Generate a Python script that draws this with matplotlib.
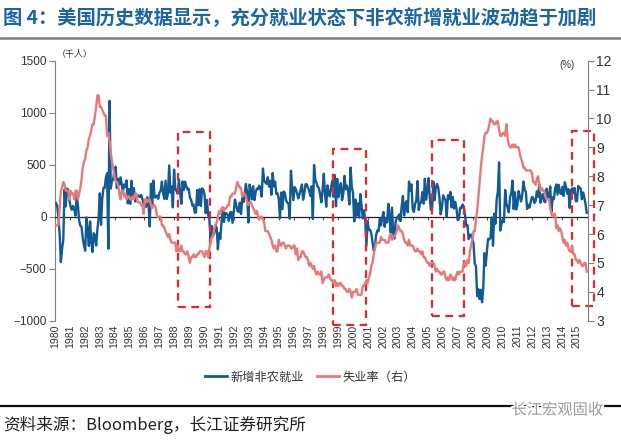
import matplotlib
matplotlib.use("Agg")
import matplotlib.pyplot as plt
import matplotlib.patheffects as pe
from matplotlib.patches import Rectangle
from matplotlib.lines import Line2D
import numpy as np

plt.rcParams['font.family'] = ['Noto Sans CJK SC', 'DejaVu Sans']

# ---------------- data (monthly, Jan 1980 - May 2016) ----------------
start_year = 1980
payroll_by_year = {
    1980: [131, 102, -11, -167, -436, -311, -222, 259, 99, 271, 259, 162],
    1981: [95, 67, 104, 74, 10, 196, 112, -36, -87, -100, -209, -278],
    1982: [-327, -6, -129, -281, -45, -243, -340, -158, -181, -277, -124, -14],
    1983: [225, -78, 173, 276, 277, 378, 418, -308, 1114, 271, 352, 356],
    1984: [446, 481, 275, 363, 308, 379, 313, 242, 310, 286, 349, 128],
    1985: [265, 124, 346, 196, 274, 146, 190, 193, 204, 188, 209, 167],
    1986: [125, 107, 94, 187, 127, -94, 318, 114, 347, 186, 186, 204],
    1987: [172, 232, 249, 338, 226, 171, 346, 170, 226, 493, 231, 290],
    1988: [90, 453, 275, 245, 221, 360, 223, 124, 339, 257, 337, 293],
    1989: [263, 269, 184, 164, 108, 117, 39, 41, 257, 110, 265, 103],
    1990: [272, 261, 215, 34, 161, 23, -23, -210, -89, -176, -156, -83],
    1991: [-108, -314, -159, -213, -48, 88, -50, 37, 32, 18, -40, 41],
    1992: [46, -59, 41, 164, 117, 56, 46, 134, 26, 178, 140, 219],
    1993: [314, 230, -56, 309, 265, 167, 294, 160, 236, 270, 265, 298],
    1994: [270, 193, 463, 348, 328, 316, 380, 290, 346, 211, 420, 291],
    1995: [337, 219, 223, 168, -14, 232, 73, 242, 230, 157, 134, 128],
    1996: [-19, 442, 279, 159, 284, 264, 226, 176, 215, 260, 309, 163],
    1997: [227, 312, 312, 278, 251, 199, 292, -22, 497, 355, 325, 289],
    1998: [274, 210, 138, 256, 413, 218, 96, 301, 222, 195, 282, 345],
    1999: [192, 400, 100, 364, 188, 266, 323, 159, 220, 393, 264, 300],
    2000: [244, 118, 472, 287, 226, -45, 165, 11, 128, -8, 217, 107],
    2001: [-16, 62, -30, -281, -44, -128, -125, -160, -244, -325, -292, -172],
    2002: [-133, -139, -23, -84, -7, 45, -97, -14, -55, 124, 9, -154],
    2003: [88, -157, -210, -48, -7, 1, 22, -42, 105, 200, 12, 124],
    2004: [150, 43, 338, 250, 311, 80, 46, 122, 159, 343, 64, 132],
    2005: [138, 237, 126, 364, 163, 243, 371, 194, 65, 84, 336, 159],
    2006: [277, 315, 280, 183, 23, 82, 206, 181, 156, 3, 206, 170],
    2007: [239, 90, 189, 79, 143, 78, -33, -18, 85, 82, 118, 97],
    2008: [15, -86, -80, -214, -182, -172, -210, -259, -452, -474, -765, -697],
    2009: [-791, -703, -823, -686, -351, -470, -329, -212, -219, -200, -7, -279],
    2010: [28, -69, 163, 243, 522, -133, -70, -34, -52, 257, 123, 88],
    2011: [42, 188, 225, 346, 73, 235, 70, 107, 246, 202, 146, 205],
    2012: [338, 257, 239, 75, 115, 87, 143, 190, 181, 132, 149, 243],
    2013: [190, 311, 135, 192, 218, 146, 140, 269, 185, 189, 291, 45],
    2014: [187, 168, 272, 310, 213, 306, 232, 218, 286, 200, 331, 286],
    2015: [221, 265, 84, 251, 273, 228, 277, 150, 149, 295, 280, 271],
    2016: [168, 233, 186, 123, 38],
}
unrate_by_year = {
    1980: [6.3, 6.3, 6.3, 6.9, 7.5, 7.6, 7.8, 7.7, 7.5, 7.5, 7.5, 7.2],
    1981: [7.5, 7.4, 7.4, 7.2, 7.5, 7.5, 7.2, 7.4, 7.6, 7.9, 8.3, 8.5],
    1982: [8.6, 8.9, 9.0, 9.3, 9.4, 9.6, 9.8, 9.8, 10.1, 10.4, 10.8, 10.8],
    1983: [10.4, 10.4, 10.3, 10.2, 10.1, 10.1, 9.4, 9.5, 9.2, 8.8, 8.5, 8.3],
    1984: [8.0, 7.8, 7.8, 7.7, 7.4, 7.2, 7.5, 7.5, 7.3, 7.4, 7.2, 7.3],
    1985: [7.3, 7.2, 7.2, 7.3, 7.2, 7.4, 7.4, 7.1, 7.1, 7.1, 7.0, 7.0],
    1986: [6.7, 7.2, 7.2, 7.1, 7.2, 7.2, 7.0, 6.9, 7.0, 7.0, 6.9, 6.6],
    1987: [6.6, 6.6, 6.6, 6.3, 6.3, 6.2, 6.1, 6.0, 5.9, 6.0, 5.8, 5.7],
    1988: [5.7, 5.7, 5.7, 5.4, 5.6, 5.4, 5.4, 5.6, 5.4, 5.4, 5.3, 5.3],
    1989: [5.4, 5.2, 5.0, 5.2, 5.2, 5.3, 5.2, 5.2, 5.3, 5.3, 5.4, 5.4],
    1990: [5.4, 5.3, 5.2, 5.4, 5.4, 5.2, 5.5, 5.7, 5.9, 5.9, 6.2, 6.3],
    1991: [6.4, 6.6, 6.8, 6.7, 6.9, 6.9, 6.8, 6.9, 6.9, 7.0, 7.0, 7.3],
    1992: [7.3, 7.4, 7.4, 7.4, 7.6, 7.8, 7.7, 7.6, 7.6, 7.3, 7.4, 7.4],
    1993: [7.3, 7.1, 7.0, 7.1, 7.1, 7.0, 6.9, 6.8, 6.7, 6.8, 6.6, 6.5],
    1994: [6.6, 6.6, 6.5, 6.4, 6.1, 6.1, 6.1, 6.0, 5.9, 5.8, 5.6, 5.5],
    1995: [5.6, 5.4, 5.4, 5.8, 5.6, 5.6, 5.7, 5.7, 5.6, 5.5, 5.6, 5.6],
    1996: [5.6, 5.5, 5.5, 5.6, 5.6, 5.3, 5.5, 5.1, 5.2, 5.2, 5.4, 5.4],
    1997: [5.3, 5.2, 5.2, 5.1, 4.9, 5.0, 4.9, 4.8, 4.9, 4.7, 4.6, 4.7],
    1998: [4.6, 4.6, 4.7, 4.3, 4.4, 4.5, 4.5, 4.5, 4.6, 4.5, 4.4, 4.4],
    1999: [4.3, 4.4, 4.2, 4.3, 4.2, 4.3, 4.3, 4.2, 4.2, 4.1, 4.1, 4.0],
    2000: [4.0, 4.1, 4.0, 3.8, 4.0, 4.0, 4.0, 4.1, 3.9, 3.9, 3.9, 3.9],
    2001: [4.2, 4.2, 4.3, 4.4, 4.3, 4.5, 4.6, 4.9, 5.0, 5.3, 5.5, 5.7],
    2002: [5.7, 5.7, 5.7, 5.9, 5.8, 5.8, 5.8, 5.7, 5.7, 5.7, 5.9, 6.0],
    2003: [5.8, 5.9, 5.9, 6.0, 6.1, 6.3, 6.2, 6.1, 6.1, 6.0, 5.8, 5.7],
    2004: [5.7, 5.6, 5.8, 5.6, 5.6, 5.6, 5.5, 5.4, 5.4, 5.5, 5.4, 5.4],
    2005: [5.3, 5.4, 5.2, 5.2, 5.1, 5.0, 5.0, 4.9, 5.0, 5.0, 5.0, 4.9],
    2006: [4.7, 4.8, 4.7, 4.7, 4.6, 4.6, 4.7, 4.7, 4.5, 4.4, 4.5, 4.4],
    2007: [4.6, 4.5, 4.4, 4.5, 4.4, 4.6, 4.7, 4.6, 4.7, 4.7, 4.7, 5.0],
    2008: [5.0, 4.9, 5.1, 5.0, 5.4, 5.6, 5.8, 6.1, 6.1, 6.5, 6.8, 7.3],
    2009: [7.8, 8.3, 8.7, 9.0, 9.4, 9.5, 9.5, 9.6, 9.8, 10.0, 9.9, 9.9],
    2010: [9.8, 9.8, 9.9, 9.9, 9.6, 9.4, 9.4, 9.5, 9.5, 9.4, 9.8, 9.3],
    2011: [9.1, 9.0, 9.0, 9.1, 9.0, 9.1, 9.0, 9.0, 9.0, 8.8, 8.6, 8.5],
    2012: [8.3, 8.3, 8.2, 8.2, 8.2, 8.2, 8.2, 8.1, 7.8, 7.8, 7.7, 7.9],
    2013: [8.0, 7.7, 7.5, 7.6, 7.5, 7.5, 7.3, 7.2, 7.2, 7.2, 6.9, 6.7],
    2014: [6.6, 6.7, 6.7, 6.2, 6.3, 6.1, 6.2, 6.1, 5.9, 5.7, 5.8, 5.6],
    2015: [5.7, 5.5, 5.4, 5.4, 5.6, 5.3, 5.3, 5.1, 5.1, 5.0, 5.1, 5.0],
    2016: [4.9, 4.9, 5.0, 5.0, 4.7],
}
year_labels = [str(y) for y in range(1980, 2016)]     # axis labels
series_names = ['新增非农就业', '失业率（右）']
# highlighted "full employment" windows (start, end in years)
boxes = [(1988.35, 1990.56), (1998.96, 2001.22), (2005.76, 2007.95), (2015.3, 2016.8)]
box_spans = [(-865, 815), (-1040, 650), (-950, 735), (-860, 825)]

payroll = np.concatenate([payroll_by_year[y] for y in sorted(payroll_by_year)])
unrate = np.concatenate([unrate_by_year[y] for y in sorted(unrate_by_year)])
t = start_year + np.arange(len(payroll)) / 12.0

# ---------------- figure ----------------
W, H = 621, 440
fig = plt.figure(figsize=(W / 100, H / 100), dpi=100)
x_left, x_right = 55, 588
ax = fig.add_axes([x_left / W, 1 - 320.7 / H, (x_right - x_left) / W, (320.7 - 60.7) / H])
ax2 = ax.twinx()

blue = '#125A93'
red = '#E8797B'
grey = '#808080'

ax.plot(t, payroll, color=blue, lw=1.7, zorder=3)
ax2.plot(t, unrate, color=red, lw=1.7, zorder=3)

xmin, xmax = 1980, 2016.42
ax.set_xlim(xmin, xmax)
ax.set_ylim(-1000, 1500)
ax2.set_ylim(3, 12)
ax.set_yticks(np.arange(-1000, 1501, 500))
ax2.set_yticks(np.arange(3, 13, 1))

for s in ['top', 'right']:
    ax.spines[s].set_visible(False)
for s in ['top', 'left', 'bottom']:
    ax2.spines[s].set_visible(False)
ax.spines['left'].set_color(grey)
ax2.spines['right'].set_color(grey)
ax.spines['bottom'].set_position(('data', 0))
ax.spines['bottom'].set_color('#222222')
ax.spines['bottom'].set_linewidth(0.9)

# year labels are spread evenly from the left spine to just left of the right spine
px_per_unit = (x_right - x_left) / (xmax - xmin)
label_pos = [xmin + (-1 + k * 14.94) / px_per_unit for k in range(len(year_labels))]
ax.set_xticks(label_pos)
ax.tick_params(axis='x', direction='out', length=2.5, color='#555555', labelbottom=False)
ax.tick_params(axis='y', direction='out', length=4, color=grey, labelsize=8.5,
               labelcolor='#333333', pad=2)
ax2.tick_params(axis='y', direction='out', length=4, color=grey, labelsize=10,
                labelcolor='#333333', pad=2)
for lab in ax.get_yticklabels() + ax2.get_yticklabels():
    lab.set_family(['Liberation Sans', 'DejaVu Sans'])

sec = ax.secondary_xaxis(0.0)
sec.set_xticks(label_pos)
sec.set_xticklabels(year_labels, rotation=90, fontsize=7.6, color='#333333',
                    family=['Liberation Sans', 'DejaVu Sans'])
sec.tick_params(length=0, pad=3)
sec.spines['bottom'].set_visible(False)

# red dashed boxes
for (x0, x1), (y0, y1) in zip(boxes, box_spans):
    ax.add_patch(Rectangle((x0, y0), x1 - x0, y1 - y0, fill=False, ec='#E8252A', lw=1.6,
                           ls=(0, (3.5, 2.5)), zorder=5, clip_on=False))

# unit labels
fig.text(75 / W, 1 - 55 / H, '（千人）', fontsize=6.5, color='#333333', ha='center', va='center')
fig.text(567 / W, 1 - 65 / H, '(%)', fontsize=7, color='#333333', ha='center', va='center',
         family=['Liberation Sans', 'DejaVu Sans'])

# legend
handles = [Line2D([], [], color=blue, lw=2), Line2D([], [], color=red, lw=2)]
fig.legend(handles, series_names, loc='center', bbox_to_anchor=(0.5, 1 - 377 / H),
           ncol=2, frameon=False, fontsize=8.8, handlelength=1.8, handletextpad=0.25,
           columnspacing=1.1, labelcolor='#333333')

# title and rules
fig.text(3 / W, 1 - 18 / H, '图 4：美国历史数据显示，充分就业状态下非农新增就业波动趋于加剧',
         fontsize=13.9, color='#1C64A4', ha='left', va='center', weight='bold')
fig.add_artist(Line2D([0, 1], [1 - 38 / H, 1 - 38 / H], color='#7F7F7F', lw=1.8))
fig.add_artist(Line2D([0, 1], [1 - 406 / H, 1 - 406 / H], color='#111111', lw=1.6))
fig.text(3 / W, 1 - 425 / H, '资料来源：Bloomberg，长江证券研究所', fontsize=12,
         color='#222222', ha='left', va='center')
fig.text(603 / W, 1 - 410 / H, '长江宏观固收', fontsize=11, color='#9A9A9A',
         ha='right', va='center',
         path_effects=[pe.withStroke(linewidth=2.5, foreground='white')])

fig.savefig('out.png', dpi=100)
